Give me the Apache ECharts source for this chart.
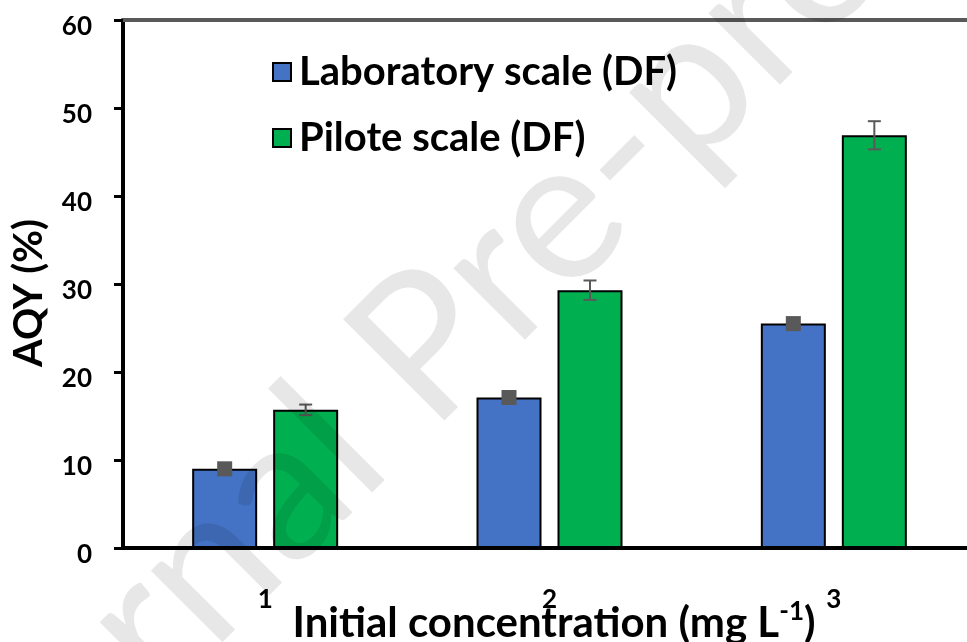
<!DOCTYPE html>
<html>
<head>
<meta charset="utf-8">
<script src="https://cdn.jsdelivr.net/npm/echarts@6/dist/echarts.min.js"></script>
<style>
html,body{margin:0;padding:0;background:#fff;}
#chart{width:967px;height:642px;}
</style>
</head>
<body>
<div id="chart"></div>
<script>
const categories = ['1', '2', '3'];
const seriesNames = ['Laboratory scale (DF)', 'Pilote scale (DF)'];
const labValues = [9.0, 17.1, 25.5];
const piloteValues = [15.7, 29.3, 46.9];
const piloteErrors = [0.6, 1.1, 1.6];
const yMin = 0, yMax = 60, yInterval = 10;
const yTitle = 'AQY (%)';
const xTitleMain = 'Initial concentration (mg L';
const xTitleSup = '-1';
const xTitleEnd = ')';
const watermark = 'Journal Pre-proof';

const FONT = 'Lato';
const BAR_W = 65;
const GAP = 16;
const OFF = (BAR_W + GAP) / 2;

const chart = echarts.init(document.getElementById('chart'), null, {renderer: 'canvas'});

const option = {
  animation: false,
  backgroundColor: '#fff',
  grid: {left: 123, top: 20, width: 853, height: 528, containLabel: false, outerBoundsMode: 'none'},
  legend: {
    orient: 'vertical',
    left: 272, top: 50,
    padding: 0,
    itemWidth: 18, itemHeight: 18,
    itemGap: 22,
    icon: 'rect',
    data: seriesNames,
    textStyle: {fontFamily: FONT, fontWeight: 'bold', fontSize: 40, color: '#000', lineHeight: 44, padding: [0, 0, 0, 3]}
  },
  xAxis: [{
    type: 'category',
    data: categories,
    position: 'bottom',
    axisLine: {lineStyle: {color: '#000', width: 4}},
    axisTick: {show: false},
    axisLabel: {fontFamily: FONT, fontWeight: 'bold', fontSize: 26, color: '#000', margin: 38, verticalAlign: 'top', lineHeight: 28}
  }, {
    type: 'category',
    data: categories,
    position: 'top',
    axisLine: {lineStyle: {color: '#595959', width: 4}},
    axisTick: {show: false},
    axisLabel: {show: false}
  }],
  yAxis: {
    type: 'value',
    min: yMin, max: yMax, interval: yInterval,
    splitLine: {show: false},
    axisLine: {show: true, lineStyle: {color: '#000', width: 4}},
    axisTick: {show: true, inside: false, length: 9, lineStyle: {color: '#000', width: 3}},
    axisLabel: {fontFamily: FONT, fontWeight: 'bold', fontSize: 26, color: '#000', margin: 31, verticalAlign: 'top', lineHeight: 14},
    name: yTitle,
    nameLocation: 'middle',
    nameRotate: 90,
    nameGap: 74,
    nameMoveOverlap: false,
    nameTextStyle: {fontFamily: FONT, fontWeight: 'bold', fontSize: 40, color: '#000', padding: [0, 18, 0, 0]}
  },
  series: [{
    name: seriesNames[0],
    type: 'bar',
    data: labValues,
    barWidth: BAR_W,
    barGap: (GAP / BAR_W * 100) + '%',
    itemStyle: {color: '#4472C4', borderColor: '#000', borderWidth: 2}
  }, {
    name: seriesNames[1],
    type: 'bar',
    data: piloteValues,
    barWidth: BAR_W,
    itemStyle: {color: '#00B050', borderColor: '#000', borderWidth: 2}
  }, {
    name: 'labMarkers',
    type: 'custom',
    z: 5,
    data: labValues.map((v, i) => [i, v]),
    renderItem: function (params, api) {
      const p = api.coord([api.value(0), api.value(1)]);
      const s = 15;
      return {type: 'rect', shape: {x: p[0] - OFF - s / 2, y: p[1] - s / 2, width: s, height: s}, style: {fill: '#595959'}};
    }
  }, {
    name: 'piloteErrors',
    type: 'custom',
    z: 5,
    data: piloteValues.map((v, i) => [i, v, piloteErrors[i]]),
    renderItem: function (params, api) {
      const i = api.value(0), v = api.value(1), e = api.value(2);
      const hi = api.coord([i, v + e]);
      const lo = api.coord([i, v - e]);
      const x = hi[0] + OFF;
      const cw = 6.5;
      const st = {stroke: '#595959', lineWidth: 2};
      return {type: 'group', children: [
        {type: 'line', shape: {x1: x, y1: hi[1], x2: x, y2: lo[1]}, style: st},
        {type: 'line', shape: {x1: x - cw, y1: hi[1], x2: x + cw, y2: hi[1]}, style: st},
        {type: 'line', shape: {x1: x - cw, y1: lo[1], x2: x + cw, y2: lo[1]}, style: st}
      ]};
    }
  }],
  graphic: [{
    type: 'text',
    x: 554, y: 623,
    z: 50,
    silent: true,
    style: {
      text: '{t|' + xTitleMain + '}{s|' + xTitleSup + '}{t|' + xTitleEnd + '}',
      textAlign: 'center', textVerticalAlign: 'middle',
      rich: {
        t: {fontFamily: FONT, fontWeight: 'bold', fontSize: 42, fill: '#000', lineHeight: 48},
        s: {fontFamily: FONT, fontWeight: 'bold', fontSize: 26, fill: '#000', lineHeight: 48, verticalAlign: 'top', padding: [0, 0, 12, 0]}
      }
    }
  }, {
    type: 'text',
    x: -30, y: 945,
    rotation: Math.PI / 4,
    z: 100,
    silent: true,
    style: {text: watermark, fontFamily: FONT, fontSize: 200, fill: 'rgba(0,0,0,0.095)', textAlign: 'left', textVerticalAlign: 'bottom'}
  }]
};
chart.setOption(option);
</script>
</body>
</html>
